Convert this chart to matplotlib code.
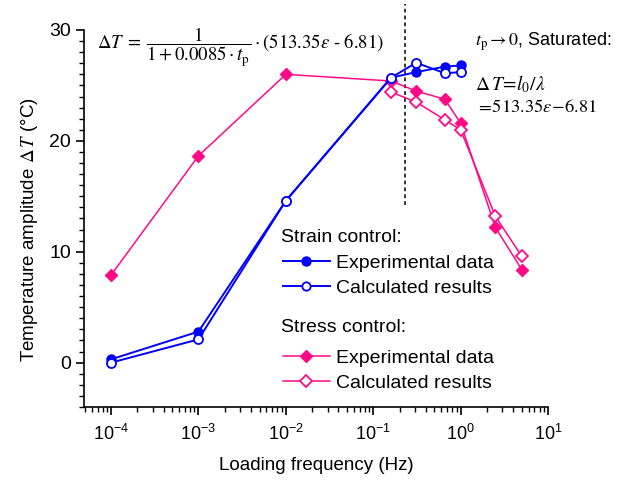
import matplotlib
matplotlib.use('Agg')
import matplotlib.pyplot as plt
import matplotlib.ticker as ticker
from matplotlib.lines import Line2D
import numpy as np

plt.rcParams['font.family'] = ['Liberation Sans', 'DejaVu Sans']
plt.rcParams['mathtext.fontset'] = 'custom'
plt.rcParams['mathtext.rm'] = 'Liberation Sans'
plt.rcParams['mathtext.it'] = 'Liberation Sans:italic'

# strain control
strain_freq = [1e-4, 1e-3, 1e-2, 0.16, 0.31, 0.66, 1.0]
strain_exp = [0.3, 2.8, 14.6, 25.7, 26.2, 26.7, 26.8]
strain_calc = [0.0, 2.1, 14.6, 25.7, 27.05, 26.1, 26.2]

# stress control
stress_freq_exp = [1e-4, 1e-3, 1e-2, 0.16, 0.31, 0.66, 1.0, 2.5, 5.0]
stress_exp = [7.9, 18.65, 26.0, 25.4, 24.5, 23.75, 21.6, 12.2, 8.4]
stress_freq_calc = [0.16, 0.31, 0.66, 1.0, 2.5, 5.0]
stress_calc = [24.4, 23.5, 21.9, 21.0, 13.2, 9.6]

# saturation frequency marker
f_sat = 0.23
sat_span = (14.2, 32.3)

blue = '#0000FF'
pink = '#FF0A87'

fig = plt.figure(figsize=(6.22, 4.82), dpi=100)
ax = fig.add_axes([84/622, 1 - 407/482, 464/622, 377/482])

ax.plot(stress_freq_exp, stress_exp, color=pink, lw=1.1, marker='D', ms=6.5,
        mfc=pink, mec=pink, zorder=3)
ax.plot(stress_freq_calc, stress_calc, color=pink, lw=1.1, marker='D', ms=6.5,
        mfc='white', mec=pink, mew=1.3, zorder=3)
ax.plot(strain_freq, strain_exp, color=blue, lw=1.4, marker='o', ms=6.5,
        mfc=blue, mec=blue, zorder=4)
ax.plot(strain_freq, strain_calc, color=blue, lw=1.4, marker='o', ms=6.5,
        mfc='white', mec=blue, mew=1.3, zorder=4)

ax.plot([f_sat, f_sat], sat_span, color='black', ls=(0, (2.5, 2)), lw=1.1,
        clip_on=False, zorder=2)

ax.set_xscale('log')
ax.set_xlim(4.9e-5, 10)
ax.set_ylim(-4, 30)
ax.xaxis.set_major_locator(ticker.LogLocator(base=10, numticks=10))
ax.xaxis.set_minor_locator(ticker.LogLocator(base=10, subs=np.arange(2, 10), numticks=20))
ax.xaxis.set_minor_formatter(ticker.NullFormatter())
ax.yaxis.set_major_locator(ticker.MultipleLocator(10))
ax.yaxis.set_minor_locator(ticker.MultipleLocator(1))

for s in ['top', 'right']:
    ax.spines[s].set_visible(False)
for s in ['left', 'bottom']:
    ax.spines[s].set_linewidth(1.2)
ax.tick_params(which='major', direction='out', length=6, width=1.2)
ax.tick_params(which='minor', direction='out', length=3.5, width=1.0)
ax.tick_params(axis='y', labelsize=14)
ax.tick_params(axis='x', labelsize=13, pad=6)

ax.set_xlabel('Loading frequency (Hz)', fontsize=13.5)
ax.xaxis.set_label_coords(0.5, -(457 - 407)/377)
ax.set_ylabel(r'Temperature amplitude $\Delta\,T$ (°C)', fontsize=13.5,
              math_fontfamily='stix')
ax.yaxis.set_label_coords((40 - 84)/464, 1 - (230 - 30)/377)

# formula in upper left
ax.text((97 - 84)/464, 1 - (47 - 30)/377,
        r'$\Delta T\;=\;\dfrac{1}{1+0.0085\cdot t_\mathrm{p}}\cdot\left(513.35\varepsilon\ \text{-}\ 6.81\right)$',
        transform=ax.transAxes, fontsize=13.5, math_fontfamily='stix',
        ha='left', va='center')

# saturation note at right
ax.text((475 - 84)/464, 1 - (42 - 30)/377, r'$t_\mathrm{p}\rightarrow 0$, Saturated:',
        transform=ax.transAxes, fontsize=13, math_fontfamily='stix',
        ha='left', va='center')
ax.text((475 - 84)/464, 1 - (84 - 30)/377, r'$\Delta\,T\!=\!l_0/\lambda$',
        transform=ax.transAxes, fontsize=14, math_fontfamily='stix',
        ha='left', va='center')
ax.text((476 - 84)/464, 1 - (107 - 30)/377, r'$=\!513.35\varepsilon\!-\!6.81$',
        transform=ax.transAxes, fontsize=13.3, math_fontfamily='stix',
        ha='left', va='center')

# legends
ax.text((281 - 84)/464, 1 - (237 - 30)/377, 'Strain control:', transform=ax.transAxes,
        fontsize=14, ha='left', va='center')
ax.text((281 - 84)/464, 1 - (328 - 30)/377, 'Stress control:', transform=ax.transAxes,
        fontsize=14, ha='left', va='center')

h_strain = [Line2D([], [], color=blue, lw=1.4, marker='o', ms=6.5, mfc=blue, mec=blue),
            Line2D([], [], color=blue, lw=1.4, marker='o', ms=6, mfc='white', mec=blue, mew=1.3)]
h_stress = [Line2D([], [], color=pink, lw=1.1, marker='D', ms=6, mfc=pink, mec=pink),
            Line2D([], [], color=pink, lw=1.1, marker='D', ms=6, mfc='white', mec=pink, mew=1.3)]
labels = ['Experimental data', 'Calculated results']

fig.legend(h_strain, labels, loc='upper left',
           bbox_to_anchor=(283/622, 1 - 254/482), frameon=False, fontsize=14,
           borderpad=0, borderaxespad=0, handlelength=2.4, handletextpad=0.3,
           labelspacing=0.4)
fig.legend(h_stress, labels, loc='upper left',
           bbox_to_anchor=(283/622, 1 - 349/482), frameon=False, fontsize=14,
           borderpad=0, borderaxespad=0, handlelength=2.4, handletextpad=0.3,
           labelspacing=0.4)

fig.savefig('out.png', dpi=100)
